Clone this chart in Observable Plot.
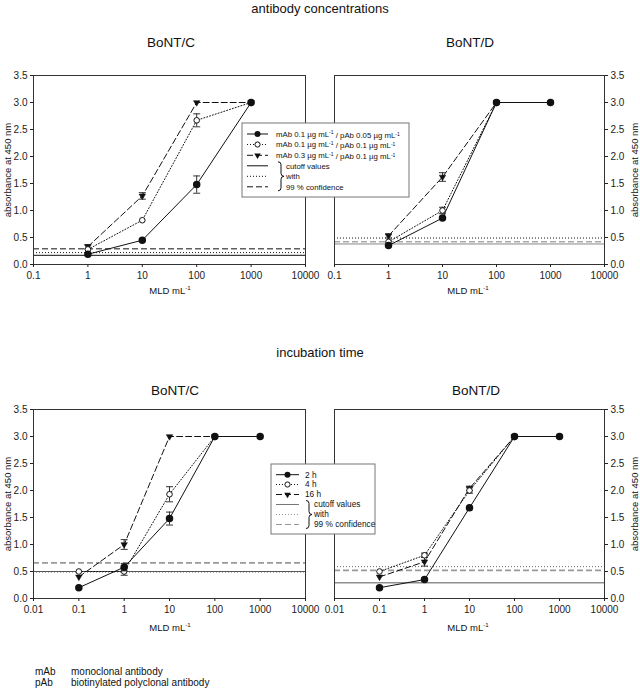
<!DOCTYPE html>
<html>
<head>
<meta charset="utf-8">
<script src="https://cdn.jsdelivr.net/npm/d3@7"></script>
<script src="https://cdn.jsdelivr.net/npm/@observablehq/plot@0.6"></script>
<style>
  html, body { margin: 0; padding: 0; background: #fff; }
  #root { position: relative; width: 640px; height: 696px; font-family: "Liberation Sans", Arial, sans-serif; color: #111; overflow: hidden; }
  .t { position: absolute; transform: translate(-50%, -50%); white-space: nowrap; }
  .abs { position: absolute; }
  sup { font-size: 65%; }
</style>
</head>
<body>
<div id="root"></div>
<script>
// ---------- data ----------
// antibody concentrations (x: MLD per mL)
const concX = [1, 10, 100, 1000];
const concSeriesNames = ["mAb 0.1 / pAb 0.05", "mAb 0.1 / pAb 0.1", "mAb 0.3 / pAb 0.1"];
const concC_mean = [[0.19, 0.45, 1.48, 3.0], [0.28, 0.82, 2.67, 3.0], [0.33, 1.27, 3.0, 3.0]];
const concC_err  = [[0.02, 0.02, 0.16, 0], [0.03, 0.03, 0.12, 0], [0.04, 0.06, 0, 0]];
const concC_cut  = [0.17, 0.22, 0.29];
const concD_mean = [[0.35, 0.86, 3.0, 3.0], [0.42, 1.0, 3.0, null], [0.53, 1.62, 3.0, null]];
const concD_err  = [[0.02, 0.03, 0, 0], [0.03, 0.06, 0, 0], [0.04, 0.08, 0, 0]];
const concD_cut  = [0.38, 0.49, 0.42];
// incubation time
const incX = [0.1, 1, 10, 100, 1000];
const incSeriesNames = ["2 h", "4 h", "16 h"];
const incC_mean = [[0.2, 0.58, 1.48, 3.0, 3.0], [0.5, 0.5, 1.93, 3.0, null], [0.4, 1.0, 3.0, 3.0, null]];
const incC_err  = [[0.02, 0.07, 0.12, 0, 0], [0.03, 0.07, 0.14, 0, 0], [0.03, 0.09, 0, 0, 0]];
const incC_cut  = [0.5, 0.49, 0.66];
const incD_mean = [[0.2, 0.35, 1.68, 3.0, 3.0], [0.5, 0.8, 2.0, 3.0, null], [0.4, 0.68, 2.04, 3.0, null]];
const incD_err  = [[0.02, 0.02, 0.02, 0, 0], [0.03, 0.04, 0.05, 0, 0], [0.03, 0.08, 0.04, 0, 0]];
const incD_cut  = [0.29, 0.59, 0.52];

const yTicks = [0, 0.5, 1.0, 1.5, 2.0, 2.5, 3.0, 3.5];
const xTicksTop = [0.1, 1, 10, 100, 1000, 10000];
const xTicksBottom = [0.01, 0.1, 1, 10, 100, 1000, 10000];

// ---------- styles ----------
const seriesDash = [null, "1,2", "6,3"];
const cutDash = [null, "1,2", "6,3"];
const capSymbol = { draw(ctx, size) { const w = Math.sqrt(size / Math.PI); ctx.moveTo(-w, 0); ctx.lineTo(w, 0); } };

function rows(xs, means, errs) {
  const out = [];
  means.forEach((m, s) => xs.forEach((x, i) => out.push({ s, x, y: m[i], err: errs[s][i] })));
  return out;
}

function panel({ xs, means, errs, cuts, cutColors, xDomain, xTicks, side }) {
  const data = rows(xs, means, errs);
  const marks = [];
  cuts.forEach((c, k) => marks.push(Plot.ruleY([c], { stroke: cutColors[k], strokeWidth: k === 2 && cutColors[k] !== "#111" ? 1.6 : 1, strokeDasharray: cutDash[k] })));
  const order = [2, 1, 0];
  for (const s of order) {
    const d = data.filter(r => r.s === s);
    marks.push(Plot.line(d, { x: "x", y: "y", stroke: "#111", strokeWidth: 1, strokeDasharray: seriesDash[s] }));
  }
  for (const s of order) {
    const d = data.filter(r => r.s === s && r.y != null);
    const e = d.filter(r => r.err >= 0.04);
    marks.push(Plot.ruleX(e, { x: "x", y1: r => r.y - r.err, y2: r => r.y + r.err, stroke: "#333", strokeWidth: 1 }));
    marks.push(Plot.dot(e, { x: "x", y: r => r.y - r.err, symbol: capSymbol, r: 3.5, stroke: "#333", strokeWidth: 1 }));
    marks.push(Plot.dot(e, { x: "x", y: r => r.y + r.err, symbol: capSymbol, r: 3.5, stroke: "#333", strokeWidth: 1 }));
    if (s === 0) marks.push(Plot.dot(d, { x: "x", y: "y", r: 3, fill: "#111", stroke: "#111" }));
    if (s === 1) marks.push(Plot.dot(d, { x: "x", y: "y", r: 2.8, fill: "#fff", stroke: "#111", strokeWidth: 1 }));
    if (s === 2) marks.push(Plot.dot(d, { x: "x", y: "y", symbol: "triangle", rotate: 180, r: 2.4, fill: "#111", stroke: "#111", strokeWidth: 0.5 }));
  }
  marks.push(Plot.frame({ stroke: "#333" }));
  marks.push(Plot.axisX({ ticks: xTicks, tickFormat: d => String(d), tickSize: 3, label: null, tickPadding: 4 }));
  marks.push(Plot.axisY({ anchor: side, ticks: yTicks, tickFormat: d3.format(".1f"), tickSize: 3, label: null, tickPadding: 3 }));
  return Plot.plot({
    width: 320, height: 250,
    marginLeft: side === "left" ? 33 : 14,
    marginRight: side === "left" ? 15 : 36,
    marginTop: 15, marginBottom: 46,
    x: { type: "log", domain: xDomain },
    y: { domain: [0, 3.5] },
    style: { fontFamily: "'Liberation Sans', Arial, sans-serif", fontSize: "10px", color: "#222", background: "transparent" },
    marks
  });
}

const root = document.getElementById("root");
function place(el, left, top) { el.style.position = "absolute"; el.style.left = left + "px"; el.style.top = top + "px"; root.appendChild(el); }
function text(html, x, y, size, extra = "") {
  const d = document.createElement("div"); d.className = "t";
  d.style.left = x + "px"; d.style.top = y + "px"; d.style.fontSize = size + "px";
  d.innerHTML = html; if (extra) d.style.cssText += extra; root.appendChild(d); return d;
}

const darkCut = ["#111", "#111", "#111"];
place(panel({ xs: concX, means: concC_mean, errs: concC_err, cuts: concC_cut, cutColors: darkCut, xDomain: [0.1, 10000], xTicks: xTicksTop, side: "left" }), 0, 60);
place(panel({ xs: concX, means: concD_mean, errs: concD_err, cuts: concD_cut, cutColors: ["#888", "#111", "#aaa"], xDomain: [0.1, 10000], xTicks: xTicksTop, side: "right" }), 320, 60);
place(panel({ xs: incX, means: incC_mean, errs: incC_err, cuts: incC_cut, cutColors: ["#555", "#666", "#999"], xDomain: [0.01, 10000], xTicks: xTicksBottom, side: "left" }), 0, 394);
place(panel({ xs: incX, means: incD_mean, errs: incD_err, cuts: incD_cut, cutColors: ["#555", "#666", "#999"], xDomain: [0.01, 10000], xTicks: xTicksBottom, side: "right" }), 320, 394);

// titles
text("antibody concentrations", 320, 8, 13);
text("BoNT/C", 171, 42, 13.5);
text("BoNT/D", 470, 42, 13.5);
text("incubation time", 320, 352, 13);
text("BoNT/C", 175, 390, 13.5);
text("BoNT/D", 476, 390, 13.5);
// axis titles
text("MLD mL<sup>-1</sup>", 170, 290, 9.5);
text("MLD mL<sup>-1</sup>", 468, 290, 9.5);
text("MLD mL<sup>-1</sup>", 170, 627, 9.5);
text("MLD mL<sup>-1</sup>", 468, 627, 9.5);
text("absorbance at 450 nm", 7, 170, 9.5, "transform:translate(-50%,-50%) rotate(-90deg);");
text("absorbance at 450 nm", 634, 170, 9.5, "transform:translate(-50%,-50%) rotate(-90deg);");
text("absorbance at 450 nm", 7, 504, 9.5, "transform:translate(-50%,-50%) rotate(-90deg);");
text("absorbance at 450 nm", 634, 504, 9.5, "transform:translate(-50%,-50%) rotate(-90deg);");
// footnotes
const fn = [["mAb", "monoclonal antibody"], ["pAb", "biotinylated polyclonal antibody"]];
fn.forEach(([a, b], i) => {
  const y = 672 + i * 11;
  const d1 = document.createElement("div"); d1.className = "abs"; d1.style.cssText += `left:35px;top:${y - 6}px;font-size:10px;`; d1.textContent = a; root.appendChild(d1);
  const d2 = document.createElement("div"); d2.className = "abs"; d2.style.cssText += `left:71px;top:${y - 6}px;font-size:10px;`; d2.textContent = b; root.appendChild(d2);
});

// ---------- legends ----------
function legend({ x, y, w, h, rowY, lx1, lx2, tx, fs, labels, cutColors, braceX, cutTx }) {
  const svg = d3.create("svg").attr("width", 640).attr("height", 696)
    .style("position", "absolute").style("left", 0).style("top", 0)
    .style("font-family", "'Liberation Sans', Arial, sans-serif");
  svg.append("rect").attr("x", x).attr("y", y).attr("width", w).attr("height", h).attr("fill", "#fff").attr("stroke", "#777");
  const mx = (lx1 + lx2) / 2;
  labels.forEach((lab, i) => {
    const yy = rowY[i];
    svg.append("line").attr("x1", lx1).attr("x2", lx2).attr("y1", yy).attr("y2", yy).attr("stroke", "#111").attr("stroke-dasharray", seriesDash[i]);
    if (i === 0) svg.append("circle").attr("cx", mx).attr("cy", yy).attr("r", 3).attr("fill", "#111");
    if (i === 1) svg.append("circle").attr("cx", mx).attr("cy", yy).attr("r", 2.6).attr("fill", "#fff").attr("stroke", "#111");
    if (i === 2) svg.append("path").attr("d", d3.symbol(d3.symbolTriangle, 18)()).attr("transform", `translate(${mx},${yy}) rotate(180)`).attr("fill", "#111");
    const t = svg.append("text").attr("x", tx).attr("y", yy).attr("dy", "0.35em").attr("font-size", fs).attr("fill", "#111");
    lab.forEach(part => {
      if (part.sup) t.append("tspan").attr("dy", "-0.45em").attr("font-size", fs * 0.65).text(part.sup);
      else t.append("tspan").attr("dy", part.after ? "0.45em" : null).text(part.t);
    });
  });
  for (let k = 0; k < 3; k++) {
    const yy = rowY[3 + k];
    svg.append("line").attr("x1", lx1).attr("x2", lx2).attr("y1", yy).attr("y2", yy).attr("stroke", cutColors[k]).attr("stroke-dasharray", cutDash[k]);
  }
  const y0 = rowY[3] - 4, y1 = rowY[5] + 4, ym = (y0 + y1) / 2;
  svg.append("path").attr("fill", "none").attr("stroke", "#111").attr("stroke-width", 1)
    .attr("d", `M${braceX},${y0} q3,0 3,3 V${ym - 3} q0,3 3,3 q-3,0 -3,3 V${y1 - 3} q0,3 -3,3`);
  ["cutoff values", "with", "99 % confidence"].forEach((s, k) =>
    svg.append("text").attr("x", cutTx).attr("y", rowY[3 + k]).attr("dy", "0.35em").attr("font-size", fs).attr("fill", "#111").text(s));
  root.appendChild(svg.node());
}

const concLabels = [
  [{ t: "mAb 0.1 µg mL" }, { sup: "-1" }, { t: " / pAb 0.05 µg mL", after: true }, { sup: "-1" }],
  [{ t: "mAb 0.1 µg mL" }, { sup: "-1" }, { t: " / pAb 0.1 µg mL", after: true }, { sup: "-1" }],
  [{ t: "mAb 0.3 µg mL" }, { sup: "-1" }, { t: " / pAb 0.1 µg mL", after: true }, { sup: "-1" }]
];
legend({ x: 242, y: 123, w: 167, h: 74, rowY: [134, 144.5, 155.3, 165.8, 176.3, 186.8], lx1: 247, lx2: 268, tx: 276, fs: 7.8,
  labels: concLabels, cutColors: ["#111", "#111", "#111"], braceX: 278, cutTx: 286 });
legend({ x: 271, y: 464, w: 104, h: 70, rowY: [474.7, 484.5, 494.5, 504.5, 514.5, 524.5], lx1: 276, lx2: 299, tx: 305, fs: 8.3,
  labels: incSeriesNames.map(n => [{ t: n }]), cutColors: ["#777", "#999", "#999"], braceX: 306, cutTx: 314 });
</script>
</body>
</html>
